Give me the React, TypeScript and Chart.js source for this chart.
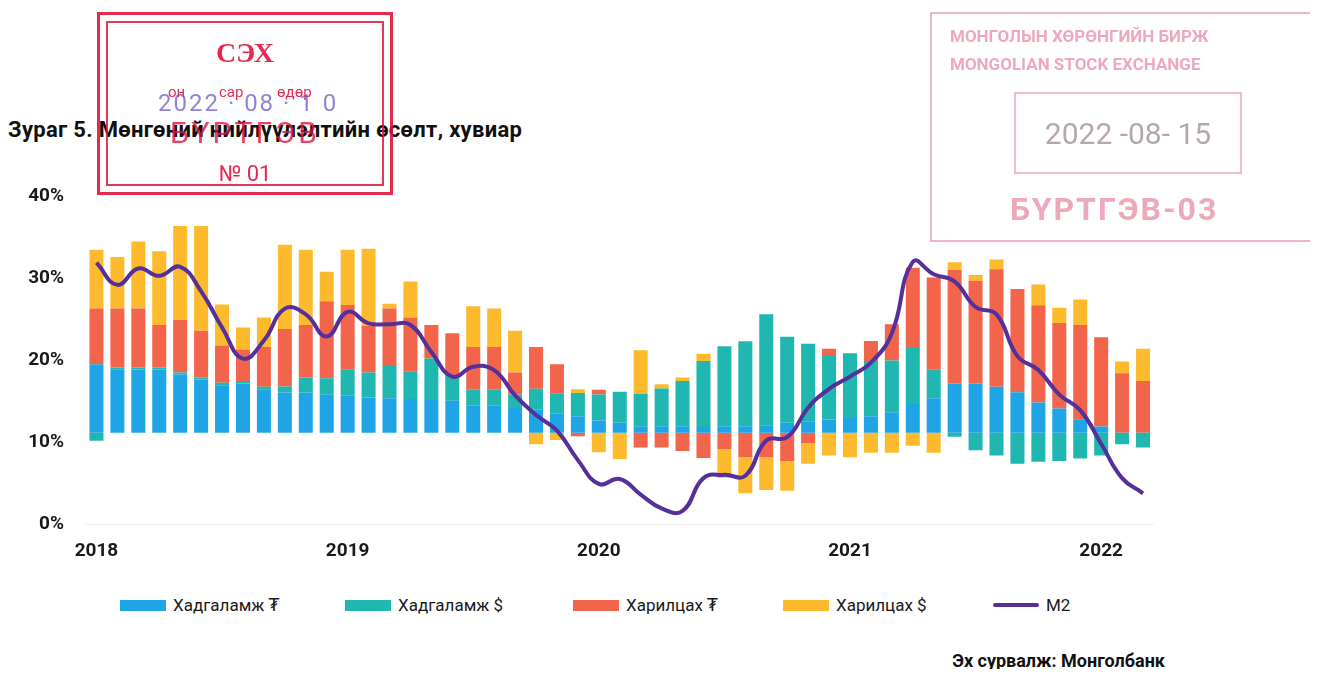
import React, { useEffect, useRef } from "react";
import { Chart, registerables } from "chart.js";

Chart.register(...registerables);

// ---- categories (monthly, Jan 2018 – Mar 2022) ----
const months: string[] = [
  "2018-01", "2018-02", "2018-03", "2018-04", "2018-05", "2018-06", "2018-07", "2018-08", "2018-09", "2018-10", "2018-11", "2018-12",
  "2019-01", "2019-02", "2019-03", "2019-04", "2019-05", "2019-06", "2019-07", "2019-08", "2019-09", "2019-10", "2019-11", "2019-12",
  "2020-01", "2020-02", "2020-03", "2020-04", "2020-05", "2020-06", "2020-07", "2020-08", "2020-09", "2020-10", "2020-11", "2020-12",
  "2021-01", "2021-02", "2021-03", "2021-04", "2021-05", "2021-06", "2021-07", "2021-08", "2021-09", "2021-10", "2021-11", "2021-12",
  "2022-01", "2022-02", "2022-03",
];

// ---- series: contributions (percentage points) ----
const depositMNT: number[] = [
  8.35, 7.75, 7.7, 7.7, 7.1, 6.5, 5.8, 6.0, 5.3, 4.9, 4.9, 4.7,
  4.5, 4.3, 4.2, 4.1, 4.0, 3.9, 3.3, 3.3, 3.0, 2.8, 2.3, 2.0,
  1.5, 1.2, 0.8, 0.8, 0.8, 0.7, 0.8, 0.8, 0.9, 1.2, 1.4, 1.6,
  1.8, 2.0, 2.5, 3.5, 4.2, 6.0, 6.0, 5.6, 4.95, 3.7, 2.95, 1.65,
  0.75, 0, 0,
];
const depositUSD: number[] = [
  -1.0, 0.2, 0.25, 0.25, 0.25, 0.25, 0.3, 0.3, 0.3, 0.75, 1.85, 1.95,
  3.25, 3.05, 4.05, 3.35, 5.05, 3.15, 1.95, 1.95, 1.65, 2.55, 2.45, 2.85,
  3.15, 3.8, 3.95, 4.6, 5.5, 8.05, 9.75, 10.35, 13.55, 10.5, 9.45, 7.75,
  7.9, 6.75, 6.3, 6.95, 3.55, -0.5, -2.15, -2.8, -3.8, -3.55, -3.45, -3.15,
  -2.8, -1.4, -1.8,
];
const currentMNT: number[] = [
  6.8, 7.2, 7.2, 5.2, 6.4, 5.7, 4.55, 3.85, 4.85, 7.0, 6.4, 9.4,
  7.85, 5.7, 6.9, 6.6, 4.1, 5.1, 5.2, 5.2, 2.7, 5.1, 3.6, -0.45,
  0.6, 0, -1.8, -1.8, -2.25, -3.1, -2.0, -3.0, -3.0, -3.5, -1.3, 0.9,
  0, 2.45, 4.45, 9.7, 11.2, 13.85, 12.55, 14.35, 12.6, 11.85, 10.45, 11.5,
  10.9, 7.25, 6.3,
];
const currentUSD: number[] = [
  7.2, 6.3, 8.2, 9.0, 11.5, 12.8, 5.0, 2.7, 3.6, 10.3, 9.2, 3.6,
  6.75, 9.4, 0.6, 4.4, 0, 0, 5.0, 4.7, 5.1, -1.4, -0.9, 0.45,
  -2.4, -3.2, 5.3, 0.5, 0.45, 0.9, -3.5, -4.4, -4.0, -3.6, -2.5, -2.8,
  -3.0, -2.45, -2.45, -1.6, -2.45, 0.95, 0.7, 1.2, 0, 2.55, 1.85, 3.1,
  0, 1.45, 3.95,
];
// ---- M2 growth, % ----
const m2Growth: number[] = [
  31.9, 29.2, 31.2, 30.3, 31.4, 28.4, 24.0, 20.2, 22.4, 26.3, 25.6, 22.9,
  25.9, 24.5, 24.4, 24.3, 21.0, 18.0, 19.2, 18.8, 15.7, 13.3, 11.4, 7.8,
  4.9, 5.5, 3.6, 1.9, 1.6, 5.6, 6.0, 5.9, 10.2, 10.6, 14.2, 16.5,
  18.0, 19.7, 23.3, 32.0, 30.5, 29.6, 26.5, 25.6, 20.5, 18.8, 15.8, 13.9,
  9.8, 5.6, 3.75,
];

// left-axis level at which the contribution bars start
const BAR_BASE = 11.15;
const yTickValues: number[] = [0, 10, 20, 30, 40];

const seriesNames = ["Хадгаламж ₮", "Хадгаламж $", "Харилцах ₮", "Харилцах $", "M2"];
const seriesColors = ["#1fa5e6", "#20b7b0", "#f2654a", "#fdba2c", "#55309a"];

const FONT = "Roboto, 'DejaVu Sans', 'Noto Sans', sans-serif";

export default function App() {
  const ref = useRef<HTMLCanvasElement | null>(null);

  useEffect(() => {
    if (!ref.current) return;
    const barSet = (i: number, data: number[]) => ({
      type: "bar" as const,
      label: seriesNames[i],
      data,
      backgroundColor: seriesColors[i],
      borderWidth: 0,
      yAxisID: "y2",
      stack: "contrib",
      order: 1,
      barPercentage: 0.67,
      categoryPercentage: 1.0,
    });
    const chart = new Chart(ref.current, {
      type: "bar",
      data: {
        labels: months,
        datasets: [
          barSet(0, depositMNT),
          barSet(1, depositUSD),
          barSet(2, currentMNT),
          barSet(3, currentUSD),
          {
            type: "line" as const,
            label: seriesNames[4],
            data: m2Growth,
            borderColor: seriesColors[4],
            borderWidth: 4,
            tension: 0.45,
            pointRadius: 0,
            fill: false,
            yAxisID: "y",
            stack: "m2",
            order: 0,
          } as any,
        ],
      },
      options: {
        animation: false,
        responsive: false,
        maintainAspectRatio: false,
        layout: { padding: { top: 14, right: 156.5, bottom: 0, left: 0 } },
        plugins: {
          legend: { display: false },
          tooltip: { enabled: false },
        },
        scales: {
          x: {
            stacked: true,
            offset: true,
            grid: { display: false, drawTicks: false },
            border: { display: false },
            ticks: {
              autoSkip: false,
              maxRotation: 0,
              minRotation: 0,
              padding: 16,
              color: "#1a1a1a",
              font: { family: FONT, size: 19, weight: "bold" },
              callback: function (_v: any, idx: number) {
                const m = months[idx];
                return m.endsWith("-01") ? m.slice(0, 4) : "";
              },
            },
            afterFit: (s: any) => {
              s.height = 46;
            },
          },
          y: {
            min: 0,
            max: 40,
            afterBuildTicks: (s: any) => {
              s.ticks = yTickValues.map((v) => ({ value: v }));
            },
            grid: {
              drawTicks: false,
              color: (ctx: any) => (ctx.tick && ctx.tick.value === 0 ? "#ececec" : "rgba(0,0,0,0)"),
            },
            border: { display: false },
            ticks: {
              padding: 22,
              color: "#1a1a1a",
              font: { family: FONT, size: 19, weight: "bold" },
              callback: (v: any) => v + "%",
            },
            afterFit: (s: any) => {
              s.width = 78;
            },
          },
          y2: {
            display: false,
            stacked: true,
            min: -BAR_BASE,
            max: 40 - BAR_BASE,
          },
        },
      } as any,
    });
    return () => chart.destroy();
  }, []);

  const legendLefts = [112, 337, 565, 775, 985];

  return (
    <div style={{ position: "relative", width: 1302, height: 661, fontFamily: FONT, overflow: "hidden" }}>
      {/* Title */}
      <div
        style={{
          position: "absolute",
          left: 0,
          top: 109,
          fontSize: 22,
          fontWeight: "bold",
          color: "#111",
          lineHeight: "26px",
          whiteSpace: "nowrap",
          letterSpacing: 0.3,
        }}
      >
        Зураг 5. Мөнгөний нийлүүлэлтийн өсөлт, хувиар
      </div>

      {/* Chart */}
      <canvas
        ref={ref}
        width={1302}
        height={407}
        style={{ position: "absolute", left: 0, top: 155, width: 1302, height: 407 }}
      />

      {/* Legend */}
      {seriesNames.map((name, i) => (
        <div
          key={name}
          style={{
            position: "absolute",
            left: legendLefts[i],
            top: 586,
            height: 22,
            display: "flex",
            alignItems: "center",
            whiteSpace: "nowrap",
          }}
        >
          <span
            style={{
              display: "inline-block",
              width: 46,
              height: i === 4 ? 4 : 11,
              background: seriesColors[i],
              marginRight: 7,
              borderRadius: i === 4 ? 2 : 0,
            }}
          />
          <span style={{ fontSize: 17, color: "#1a1a1a" }}>{name}</span>
        </div>
      ))}

      {/* Source */}
      <div
        style={{
          position: "absolute",
          right: 145,
          top: 642,
          fontSize: 18,
          fontWeight: "bold",
          color: "#111",
          lineHeight: "22px",
          whiteSpace: "nowrap",
        }}
      >
        Эх сурвалж: Монголбанк
      </div>

      {/* Stamp 1 */}
      <div
        style={{
          position: "absolute",
          left: 89,
          top: 4,
          width: 296,
          height: 183,
          border: "3px solid rgba(225,20,60,0.9)",
          boxSizing: "border-box",
          pointerEvents: "none",
        }}
      >
        <div
          style={{
            position: "absolute",
            left: 6,
            top: 6,
            right: 6,
            bottom: 6,
            border: "2px solid rgba(225,20,60,0.85)",
          }}
        />
        <div
          style={{
            position: "absolute",
            left: 0,
            right: 0,
            top: 22,
            textAlign: "center",
            fontFamily: "'Liberation Serif', serif",
            fontWeight: "bold",
            fontSize: 28,
            color: "rgba(225,20,60,0.9)",
          }}
        >
          СЭХ
        </div>
        <div
          style={{
            position: "absolute",
            left: 68,
            top: 68,
            fontSize: 15,
            color: "rgba(225,20,60,0.9)",
            wordSpacing: 30,
          }}
        >
          он сар өдөр
        </div>
        <div
          style={{
            position: "absolute",
            left: 58,
            top: 74,
            fontSize: 24,
            color: "rgba(110,90,200,0.75)",
            letterSpacing: 2,
          }}
        >
          2022 · 08 · 1 0
        </div>
        <div
          style={{
            position: "absolute",
            left: 0,
            right: 0,
            top: 100,
            textAlign: "center",
            fontSize: 30,
            color: "rgba(225,20,60,0.8)",
            letterSpacing: 3,
          }}
        >
          БҮРТГЭВ
        </div>
        <div
          style={{
            position: "absolute",
            left: 0,
            right: 0,
            top: 146,
            textAlign: "center",
            fontSize: 22,
            color: "rgba(225,20,60,0.9)",
          }}
        >
          № 01
        </div>
      </div>

      {/* Stamp 2 */}
      <div
        style={{
          position: "absolute",
          left: 922,
          top: 4,
          width: 380,
          height: 230,
          border: "2px solid rgba(225,120,150,0.55)",
          borderRight: "none",
          boxSizing: "border-box",
          pointerEvents: "none",
          color: "rgba(225,110,140,0.6)",
        }}
      >
        <div style={{ position: "absolute", left: 18, top: 12, fontSize: 17, fontWeight: "bold", whiteSpace: "nowrap" }}>
          МОНГОЛЫН ХӨРӨНГИЙН БИРЖ
        </div>
        <div style={{ position: "absolute", left: 18, top: 40, fontSize: 17, fontWeight: "bold", whiteSpace: "nowrap" }}>
          MONGOLIAN STOCK EXCHANGE
        </div>
        <div
          style={{
            position: "absolute",
            left: 82,
            top: 78,
            width: 228,
            height: 82,
            border: "2px solid rgba(225,120,150,0.5)",
            boxSizing: "border-box",
          }}
        >
          <div
            style={{
              position: "absolute",
              left: 0,
              right: 0,
              top: 22,
              textAlign: "center",
              fontSize: 30,
              color: "rgba(150,130,140,0.7)",
              whiteSpace: "nowrap",
            }}
          >
            2022 -08- 15
          </div>
        </div>
        <div
          style={{
            position: "absolute",
            left: 78,
            top: 176,
            fontSize: 32,
            fontWeight: "bold",
            letterSpacing: 2,
            whiteSpace: "nowrap",
          }}
        >
          БҮРТГЭВ-03
        </div>
      </div>
    </div>
  );
}
